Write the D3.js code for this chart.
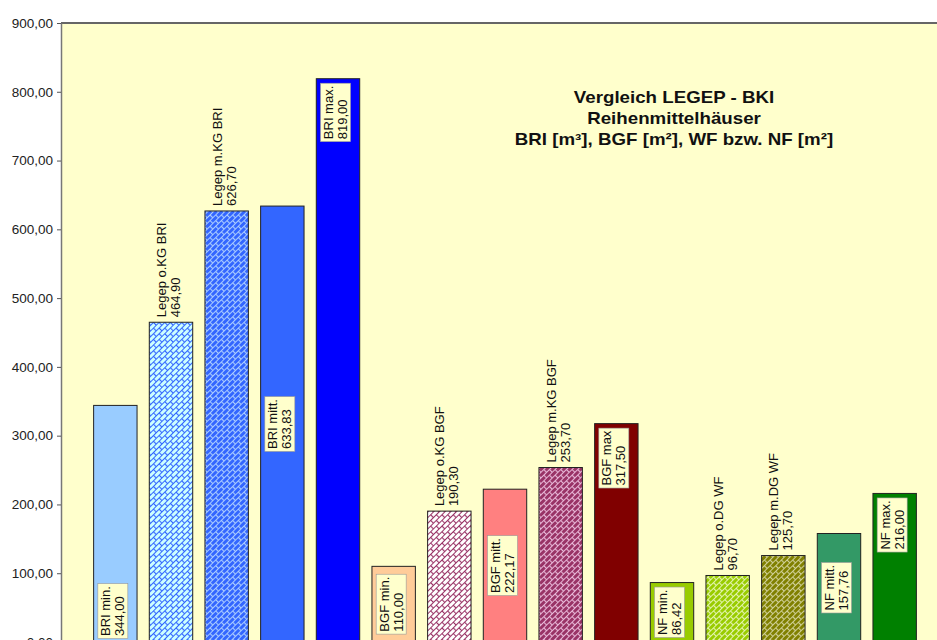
<!DOCTYPE html>
<html>
<head>
<meta charset="utf-8">
<script src="https://cdn.jsdelivr.net/npm/d3@7"></script>
<style>
    body { margin: 0; background: #fff; }
    text { font-family: "Liberation Sans", Arial, sans-serif; }
</style>
</head>
<body>
<div id="chart"></div>
<script>
/*************************************** DATA *********************************************/

var categories = ["BRI min.", "Legep o.KG BRI", "Legep m.KG BRI", "BRI mitt.", "BRI max.",
    "BGF min.", "Legep o.KG BGF", "BGF mitt.", "Legep m.KG BGF", "BGF max",
    "NF min.", "Legep o.DG WF", "Legep m.DG WF", "NF mitt.", "NF max."];

var values = [344.00, 464.90, 626.70, 633.83, 819.00,
    110.00, 190.30, 222.17, 253.70, 317.50,
    86.42, 96.70, 125.70, 157.76, 216.00];

var yTicks = [0, 100, 200, 300, 400, 500, 600, 700, 800, 900];

var titleLines = ["Vergleich LEGEP - BKI", "Reihenmittelhäuser", "BRI [m³], BGF [m²], WF bzw. NF [m²]"];

// where each data label sits (as dragged in the original sheet)
var labelPlace = ["inBase", "outEnd", "outEnd", "center", "inEnd",
    "center", "outEnd", "center", "outEnd", "inEnd",
    "center", "outEnd", "outEnd", "center", "inEnd"];

// bar colours; patternFg != null means a brick pattern over the fill
var barFill = ["#99ccff", "#ccffff", "#3366ff", "#3366ff", "#0000ff",
    "#ffcc99", "#ffffff", "#ff8080", "#993366", "#800000",
    "#99cc00", "#99cc00", "#808000", "#339966", "#008000"];
var patternFg = [null, "#3366ff", "#aaccff", null, null,
    null, "#993366", null, "#e8b8d8", null,
    null, "#e4f4b0", "#d0d098", null, null];

/*************************************** GRAPH *********************************************/

var width = 937,
    height = 640;

var de = d3.formatLocale({ decimal: ",", thousands: ".", grouping: [3], currency: ["", " €"] });
var fmt = de.format(".2f");

var x = d3.scaleBand()
    .domain(categories)
    .range([87, 922])
    .paddingInner(0.22)
    .paddingOuter(0.11);

var y = d3.scaleLinear().domain([0, 900]).range([642, 23]);

var svg = d3.select("#chart").append("svg")
    .attr("width", width)
    .attr("height", height);

var defs = svg.append("defs");
categories.forEach(function(c, i) {
    if (!patternFg[i]) return;
    var p = defs.append("pattern")
        .attr("id", "pat" + i)
        .attr("patternUnits", "userSpaceOnUse")
        .attr("width", 8)
        .attr("height", 8)
        .attr("patternTransform", "rotate(-45)");
    p.append("rect").attr("width", 8).attr("height", 8).attr("fill", barFill[i]);
    p.append("path")
        .attr("d", "M0,0.5H8M0,4.5H8M0.5,0.5V4.5M4.5,4.5V8.5")
        .attr("stroke", patternFg[i])
        .attr("stroke-width", 1.2)
        .attr("fill", "none");
});

// plot area
svg.append("rect")
    .attr("x", 61)
    .attr("y", y(900))
    .attr("width", width)
    .attr("height", height)
    .attr("fill", "#ffffcc");

svg.append("line")
    .attr("x1", 61).attr("x2", width)
    .attr("y1", y(900)).attr("y2", y(900))
    .attr("stroke", "#666")
    .attr("stroke-width", 2);

// bars
svg.append("g").selectAll("rect")
    .data(values)
    .join("rect")
    .attr("x", function(d, i) { return x(categories[i]) + 0.5; })
    .attr("y", function(d) { return y(d); })
    .attr("width", x.bandwidth())
    .attr("height", function(d) { return y(0) - y(d); })
    .attr("fill", function(d, i) { return patternFg[i] ? "url(#pat" + i + ")" : barFill[i]; })
    .attr("stroke", "#222")
    .attr("stroke-width", 1);

// data labels, rotated
svg.append("g").selectAll("g")
    .data(values)
    .join("g")
    .each(function(d, i) {
        var g = d3.select(this);
        var place = labelPlace[i];
        var cx = x(categories[i]) + x.bandwidth() / 2;
        var ay = y(0);
        if (place == "outEnd" || place == "inEnd") ay = y(d);
        if (place == "center") ay = (y(d) + y(0)) / 2;
        g.attr("transform", "translate(" + cx + "," + ay + ") rotate(-90)");

        var t = g.append("text").attr("font-size", 13).attr("fill", "#111");
        var l1 = t.append("tspan").attr("y", -4.5).text(categories[i]);
        var l2 = t.append("tspan").attr("y", 9.5).text(fmt(d));
        var len = Math.max(l1.node().getComputedTextLength(), l2.node().getComputedTextLength());

        var x0 = 6;
        if (place == "outEnd") x0 = 5;
        if (place == "inEnd") x0 = -(len + 7);
        if (place == "center") x0 = -len / 2;
        t.selectAll("tspan").attr("x", x0);

        if (place != "outEnd") {
            g.insert("rect", "text")
                .attr("x", x0 - 2.5)
                .attr("y", -17)
                .attr("width", len + 5)
                .attr("height", 30)
                .attr("fill", "#ffffcc")
                .attr("stroke", "#999")
                .attr("stroke-width", 0.6);
        }
    });

// y axis
var yAxis = d3.axisLeft(y)
    .tickValues(yTicks)
    .tickFormat(fmt)
    .tickSize(4)
    .tickSizeOuter(0)
    .tickPadding(4);

var ax = svg.append("g")
    .attr("class", "y axis")
    .attr("transform", "translate(61,0)")
    .call(yAxis);

ax.select(".domain").attr("stroke", "#777").attr("stroke-width", 1.5);
ax.selectAll(".tick line").attr("stroke", "#555");
ax.selectAll(".tick text")
    .attr("font-size", 13.5)
    .attr("font-family", "'Liberation Sans', Arial, sans-serif")
    .attr("fill", "#222");

// title (stretched a bit horizontally like the original)
var title = svg.append("g")
    .attr("transform", "translate(674,0) scale(1.17,1)");

title.selectAll("text")
    .data(titleLines)
    .join("text")
    .attr("x", 0)
    .attr("y", function(d, i) { return 103 + i * 21; })
    .attr("text-anchor", "middle")
    .attr("font-size", 16)
    .attr("font-weight", "bold")
    .attr("fill", "#111")
    .text(function(d) { return d; });
</script>
</body>
</html>
